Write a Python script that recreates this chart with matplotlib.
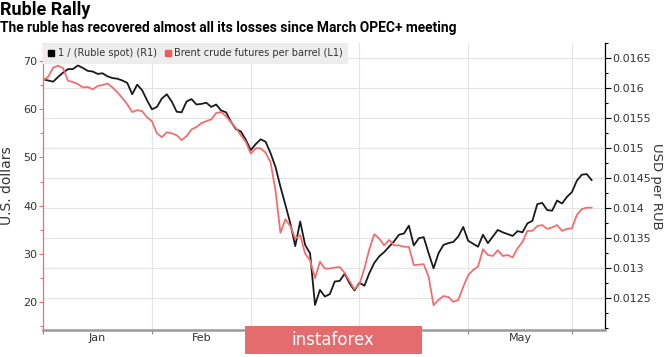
import numpy as np
import pandas as pd
import matplotlib
matplotlib.use('Agg')
import matplotlib.pyplot as plt
from matplotlib.lines import Line2D
from matplotlib.patches import Rectangle
from matplotlib.ticker import MultipleLocator, FixedLocator, FuncFormatter

# trading days on the chart (Bloomberg plots weekdays only)
days = pd.bdate_range('2020-01-02', '2020-06-05')

# 1 / (Ruble spot), USD per RUB, right axis
ruble_usd = [
    0.01615, 0.01613, 0.01611, 0.01619, 0.01626, 0.01632, 0.01632, 0.01638, 0.01634, 0.01629,
    0.01628, 0.01624, 0.01625, 0.01620, 0.01617, 0.01616, 0.01613, 0.01609, 0.01590, 0.01606,
    0.01597, 0.01580, 0.01565, 0.01569, 0.01583, 0.01590, 0.01578, 0.01561, 0.01560, 0.01578,
    0.01582, 0.01573, 0.01574, 0.01576, 0.01569, 0.01573, 0.01563, 0.01560, 0.01544, 0.01532,
    0.01528, 0.01514, 0.01497, 0.01507, 0.01515, 0.01511, 0.01492, 0.01469, 0.01436, 0.01406,
    0.01375, 0.01337, 0.01378, 0.01339, 0.01325, 0.01239, 0.01264, 0.01253, 0.01257, 0.01278,
    0.01279, 0.01291, 0.01275, 0.01263, 0.01276, 0.01271, 0.01292, 0.01309, 0.01320, 0.01327,
    0.01336, 0.01345, 0.01356, 0.01358, 0.01371, 0.01338, 0.01350, 0.01352, 0.01325, 0.01300,
    0.01325, 0.01339, 0.01342, 0.01344, 0.01353, 0.01369, 0.01346, 0.01341, 0.01336, 0.01356,
    0.01342, 0.01353, 0.01364, 0.01360, 0.01357, 0.01354, 0.01362, 0.01360, 0.01375, 0.01379,
    0.01407, 0.01409, 0.01397, 0.01396, 0.01413, 0.01408, 0.01419, 0.01427, 0.01446, 0.01456,
    0.01457, 0.01447]

# Brent crude futures, USD per barrel, left axis
brent = [
    66.0, 66.7, 68.6, 69.0, 68.5, 65.9, 65.6, 65.2, 64.5, 64.6,
    64.1, 64.8, 65.0, 65.3, 64.5, 63.5, 62.3, 61.0, 59.4, 59.8,
    59.6, 58.3, 57.5, 55.0, 54.2, 55.2, 55.0, 54.6, 53.6, 54.4,
    55.8, 56.3, 57.1, 57.5, 57.9, 59.2, 59.4, 58.5, 57.3, 56.1,
    54.6, 53.2, 50.8, 51.9, 51.9, 51.0, 49.0, 43.2, 34.4, 37.2,
    35.8, 33.2, 33.9, 30.1, 28.7, 25.0, 28.4, 27.0, 27.0, 27.2,
    27.3, 26.1, 24.4, 22.7, 23.8, 27.0, 31.0, 34.1, 33.2, 31.8,
    32.9, 31.8, 31.8, 31.5, 31.5, 27.7, 27.8, 27.9, 25.3, 19.4,
    20.5, 21.3, 21.1, 20.1, 20.5, 23.2, 25.6, 26.7, 27.4, 31.0,
    29.8, 29.6, 30.8, 29.6, 29.8, 29.3, 31.2, 32.5, 34.8, 34.8,
    35.8, 36.0, 35.2, 35.5, 36.0, 34.8, 35.2, 35.3, 38.1, 39.3,
    39.6, 39.6]

month_labels = ['Jan', 'Feb', 'Mar', 'Apr', 'May']
ruble_ticks = [0.0125, 0.013, 0.0135, 0.014, 0.0145, 0.015, 0.0155, 0.016, 0.0165]

title = 'Ruble Rally'
subtitle = 'The ruble has recovered almost all its losses since March OPEC+ meeting'

RED = '#ef6f70'
TXT = '#333333'

x = np.arange(len(days))
starts = [i for i in range(len(days)) if i == 0 or days[i].month != days[i - 1].month]
centers = [(a + b) / 2.0 for a, b in zip(starts[:-1], starts[1:])]

fig = plt.figure(figsize=(6.65, 3.57), dpi=100)
ax = fig.add_axes([42.7 / 665, 1 - 330 / 357., (605 - 42.7) / 665, (330 - 43) / 357.])
ax2 = ax.twinx()

# ruble on the main axes, ticks on the right
ax.plot(x, ruble_usd, color='#1a1a1a', lw=1.3, zorder=3)
ax.set_ylim(0.011972, 0.016755)
ax.set_xlim(-0.12, 113.7)
ax.yaxis.tick_right()
ax.yaxis.set_label_position('right')
ax.yaxis.set_major_locator(FixedLocator(ruble_ticks))
ax.yaxis.set_minor_locator(MultipleLocator(0.00025))
ax.yaxis.set_major_formatter(FuncFormatter(lambda v, p: ('%.5f' % v).rstrip('0')))
ax.tick_params(axis='y', which='major', length=4, width=0.8, color='black',
               labelsize=8, labelcolor=TXT, pad=1)
ax.tick_params(axis='y', which='minor', length=2, width=0.8, color='black')

ax.set_xticks(starts)
ax.set_xticklabels([])
ax.set_xticks(centers, minor=True)
ax.set_xticklabels(month_labels, minor=True)
ax.tick_params(axis='x', which='major', length=3, width=0.8, color='#888888')
ax.tick_params(axis='x', which='minor', length=0, labelsize=8, labelcolor=TXT, pad=2)

ax.grid(axis='y', which='major', color='#e4e4e4', lw=0.8)
ax.grid(axis='x', which='major', color='#e4e4e4', lw=0.8)
ax.set_axisbelow(True)

for s in ['top', 'left']:
    ax.spines[s].set_visible(False)
ax.spines['right'].set_color('black')
ax.spines['right'].set_linewidth(0.9)
ax.spines['bottom'].set_color('#9a9a9a')
ax.spines['bottom'].set_linewidth(1.8)

# brent on the twin axes, ticks on the left
ax2.plot(x, brent, color=RED, lw=1.3, zorder=3)
ax2.set_ylim(14.27, 73.7)
ax2.yaxis.tick_left()
ax2.yaxis.set_label_position('left')
ax2.yaxis.set_major_locator(MultipleLocator(10))
ax2.yaxis.set_minor_locator(MultipleLocator(5))
ax2.tick_params(axis='y', which='major', length=3, width=0.8, color=RED,
                labelsize=8, labelcolor=TXT, pad=1)
ax2.tick_params(axis='y', which='minor', length=2, width=0.8, color=RED)
for s in ['top', 'right', 'bottom']:
    ax2.spines[s].set_visible(False)
ax2.spines['left'].set_color(RED)
ax2.spines['left'].set_linewidth(0.9)

handles = [Line2D([], [], marker='s', ls='none', color='black', markersize=5),
           Line2D([], [], marker='s', ls='none', color='#f05a5c', markersize=5)]
leg = ax2.legend(handles, ['1 / (Ruble spot) (R1)', 'Brent crude futures per barrel (L1)'],
                 loc='upper left', bbox_to_anchor=(0, 1), borderaxespad=0, ncol=2,
                 fontsize=7, frameon=True, fancybox=False, framealpha=1,
                 handlelength=0.7, handletextpad=0.3, columnspacing=0.8, borderpad=0.55)
leg.get_frame().set_facecolor('#ededed')
leg.get_frame().set_edgecolor('none')
for t in leg.get_texts():
    t.set_color(TXT)

fig.text(7 / 665, 1 - 186 / 357., 'U.S. dollars', rotation=90, ha='center', va='center',
         fontsize=10, color=TXT)
fig.text(657 / 665, 1 - 186 / 357., 'USD per RUB', rotation=270, ha='center', va='center',
         fontsize=9.5, color=TXT)

fig.text(0.0, 1 - 1 / 357., title, ha='left', va='top', fontsize=13,
         fontweight='bold', family='Roboto', color='black')
fig.text(0.0, 1 - 21 / 357., subtitle, ha='left', va='top', fontsize=9.9,
         fontweight='bold', family='Roboto', color='black')

# instaforex watermark strip
fig.patches.append(Rectangle((245 / 665, 1 - 354 / 357.), 177 / 665, 28 / 357.,
                             transform=fig.transFigure, facecolor='#e46c6f',
                             edgecolor='none', zorder=10))
fig.text(333 / 665, 1 - 340 / 357., 'instaforex', ha='center', va='center',
         fontsize=12, color='white', zorder=11)

fig.savefig('out.png', dpi=100)
